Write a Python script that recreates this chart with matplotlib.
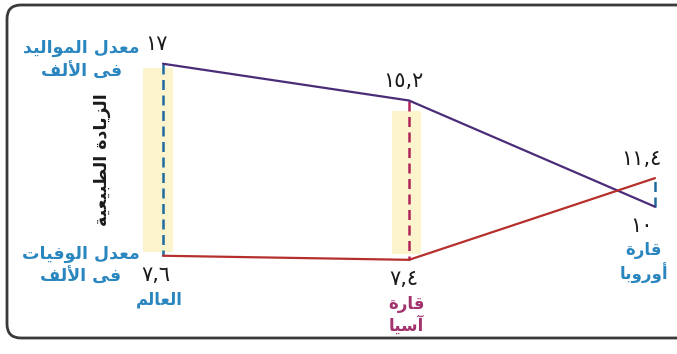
import matplotlib
matplotlib.use('Agg')
import matplotlib.pyplot as plt
from matplotlib.patches import FancyBboxPatch, Rectangle

# data
regions = ['العالم', 'قارة\nآسيا', 'قارة\nأوروبا']
birth_rate = [17, 15.2, 10]
death_rate = [7.6, 7.4, 11.4]
birth_labels = ['١٧', '١٥,٢', '١٠']
death_labels = ['٧,٦', '٧,٤', '١١,٤']
birth_title = 'معدل المواليد\nفى الألف'
death_title = 'معدل الوفيات\nفى الألف'
gap_title = 'الزيادة الطبيعية'

# --- minimal arabic shaping (matplotlib draws glyphs one by one, LTR) ---
DUAL = {'ئ': 0xFE89, 'ب': 0xFE8F, 'ت': 0xFE95, 'ث': 0xFE99, 'ج': 0xFE9D, 'ح': 0xFEA1,
        'خ': 0xFEA5, 'س': 0xFEB1, 'ش': 0xFEB5, 'ص': 0xFEB9, 'ض': 0xFEBD, 'ط': 0xFEC1,
        'ظ': 0xFEC5, 'ع': 0xFEC9, 'غ': 0xFECD, 'ف': 0xFED1, 'ق': 0xFED5, 'ك': 0xFED9,
        'ل': 0xFEDD, 'م': 0xFEE1, 'ن': 0xFEE5, 'ه': 0xFEE9, 'ي': 0xFEF1}
RIGHT = {'آ': 0xFE81, 'أ': 0xFE83, 'ؤ': 0xFE85, 'إ': 0xFE87, 'ا': 0xFE8D, 'ة': 0xFE93,
         'د': 0xFEA9, 'ذ': 0xFEAB, 'ر': 0xFEAD, 'ز': 0xFEAF, 'و': 0xFEED, 'ى': 0xFEEF}
LAMALEF = {'آ': 0xFEF5, 'أ': 0xFEF7, 'إ': 0xFEF9, 'ا': 0xFEFB}


def shape_line(s):
    items = []
    i = 0
    while i < len(s):
        if s[i] == 'ل' and i + 1 < len(s) and s[i + 1] in LAMALEF:
            items.append(('LA', s[i + 1]))
            i += 2
        else:
            items.append((s[i], None))
            i += 1

    def is_letter(it):
        return it[0] in DUAL or it[0] in RIGHT or it[0] == 'LA'

    out = []
    for k, it in enumerate(items):
        prev = items[k - 1] if k > 0 else None
        nxt = items[k + 1] if k + 1 < len(items) else None
        jp = prev is not None and prev[0] in DUAL and is_letter(it)
        jn = it[0] in DUAL and nxt is not None and is_letter(nxt)
        if it[0] == 'LA':
            out.append(chr(LAMALEF[it[1]] + (1 if jp else 0)))
        elif it[0] in DUAL:
            off = 3 if (jp and jn) else 1 if jp else 2 if jn else 0
            out.append(chr(DUAL[it[0]] + off))
        elif it[0] in RIGHT:
            out.append(chr(RIGHT[it[0]] + (1 if jp else 0)))
        else:
            out.append(it[0])
    return ''.join(reversed(out))


def ar(s):
    return '\n'.join(shape_line(line) for line in s.split('\n'))


plt.rcParams['font.family'] = ['DejaVu Sans']

PURPLE = '#4a2c78'
RED = '#b5302c'
BLUE_TXT = '#2a86bf'
BLUE_DASH = '#1f6a9e'
MAGENTA = '#a3336d'
YELLOW = '#fbf4cc'

fig = plt.figure(figsize=(6.77, 3.54), dpi=100)
ax = fig.add_axes([0, 0, 1, 1])
ax.set_xlim(-0.6626, 2.0894)
ax.set_ylim(2.79, 20.12)
ax.axis('off')

# frame around the picture (right side runs off the image)
frame = FancyBboxPatch((0.07, 0.16), 7.0, 3.33,
                       boxstyle='round,pad=0,rounding_size=0.14',
                       transform=fig.dpi_scale_trans, fill=False,
                       edgecolor='#3a3a3a', linewidth=2)
fig.add_artist(frame)

xs = list(range(len(regions)))
dash_colors = [BLUE_DASH, '#b0245a', BLUE_DASH]
txt_colors = [BLUE_TXT, MAGENTA, BLUE_TXT]

# yellow highlight bands (world, asia)
ax.add_patch(Rectangle((xs[0] - 0.08, death_rate[0] + 0.2), 0.12,
                       birth_rate[0] - death_rate[0] - 0.4, color=YELLOW, zorder=0, lw=0))
ax.add_patch(Rectangle((xs[1] - 0.07, death_rate[1] + 0.3), 0.12,
                       14.7 - death_rate[1] - 0.3, color=YELLOW, zorder=0, lw=0))

for x, b, d, c in zip(xs, birth_rate, death_rate, dash_colors):
    ax.plot([x, x], [b, d], color=c, lw=1.8, ls=(0, (4, 2.2)), zorder=2)

ax.plot(xs, birth_rate, color=PURPLE, lw=1.6, zorder=3, solid_capstyle='round')
ax.plot(xs, death_rate, color=RED, lw=1.6, zorder=3, solid_capstyle='round')

# value labels: the higher one above, the lower one below
xoffs = [-5, -4, -10]
for x, b, d, bl, dl, xo in zip(xs, birth_rate, death_rate, birth_labels, death_labels, xoffs):
    for v, lab, up in ((b, bl, b >= d), (d, dl, d > b)):
        ax.annotate(lab, (x, v), xytext=(xo, 14 if up else -14), textcoords='offset points',
                    ha='center', va='center', fontsize=15, color='#1a1a1a')

# region names under the lower point
for x, b, d, name, c, xo in zip(xs, birth_rate, death_rate, regions, txt_colors, xoffs):
    ax.annotate(ar(name), (x, min(b, d)), xytext=(xo + 2, -25), textcoords='offset points',
                ha='center', va='top', fontsize=12, fontweight='bold', color=c,
                multialignment='center', linespacing=1.2)

ax.annotate(ar(birth_title), (xs[0], birth_rate[0]), xytext=(-17, 3),
            textcoords='offset points', ha='right', va='center', fontsize=12.5,
            fontweight='bold', color=BLUE_TXT, multialignment='center', linespacing=1.4)
ax.annotate(ar(death_title), (xs[0], death_rate[0]), xytext=(-17, -7),
            textcoords='offset points', ha='right', va='center', fontsize=12.5,
            fontweight='bold', color=BLUE_TXT, multialignment='center', linespacing=1.35)
ax.annotate(ar(gap_title), (xs[0], (birth_rate[0] + death_rate[0]) / 2), xytext=(-44, 0),
            textcoords='offset points', ha='center', va='center', rotation=90,
            fontsize=12.5, fontweight='bold', color='#1a1a1a')

fig.savefig('out.png', dpi=100)
